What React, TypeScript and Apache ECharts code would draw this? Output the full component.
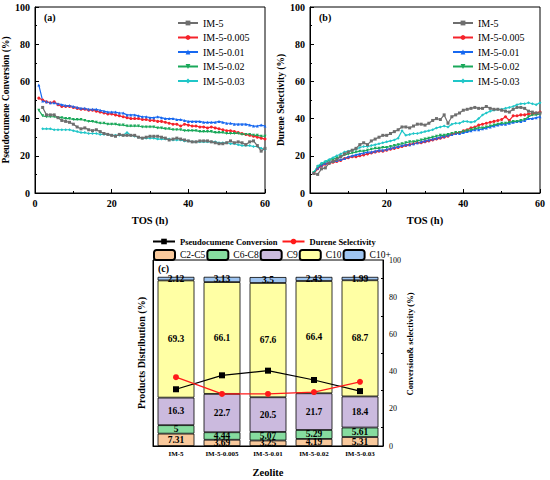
import React, { useEffect, useRef } from 'react';
import * as echarts from 'echarts';

const serif = '"Liberation Serif", "DejaVu Serif", serif';

// time on stream (h)
const tos = [
  1, 2, 3, 4, 5, 6, 7, 8, 9, 10, 11, 12, 13, 14, 15, 16, 17, 18, 19, 20,
  21, 22, 23, 24, 25, 26, 27, 28, 29, 30, 31, 32, 33, 34, 35, 36, 37, 38, 39, 40,
  41, 42, 43, 44, 45, 46, 47, 48, 49, 50, 51, 52, 53, 54, 55, 56, 57, 58, 59, 60,
];

const sampleNames = ['IM-5', 'IM-5-0.005', 'IM-5-0.01', 'IM-5-0.02', 'IM-5-0.03'];
const sampleColors = ['#6e6e6e', '#f5232b', '#1768f0', '#1aa85a', '#20c6c8'];
const sampleSymbols = ['rect', 'circle', 'triangle', 'triangle', 'diamond'];

// (a) pseudocumene conversion (%)
const convIM5 = [
  null, 46, 42, 42, 42, 40.5, 39, 38.5, 38, 37, 35.5, 34.5, 35, 34, 33.5, 34, 33, 32, 31.5, 31,
  30.5, 31.5, 31, 31, 31, 31, 30, 29.5, 30, 30.5, 30.5, 30.5, 30, 29.5, 28.5, 29, 29.5, 29, 28.5, 28,
  27.5, 27.5, 28, 28, 28, 27.5, 27, 26.5, 26.5, 27, 28, 27, 27.5, 27, 26, 27.5, 28, 25.5, 22.5, 24,
];
const conv0005 = [
  51, 50, 49, 48.5, 49, 47.5, 46.5, 46.5, 46.5, 46, 45.5, 45, 45, 44.5, 44.5, 44, 43.5, 43, 42.5, 42.5,
  42, 41.5, 41, 40.5, 40, 40, 40, 39.5, 39.5, 39, 39, 38.5, 38.5, 38, 37.5, 37, 37, 36, 37, 36.5,
  36, 36, 35.5, 35.5, 35, 35.5, 35, 34.5, 34, 33.5, 33.5, 33, 32.5, 32, 31.5, 31, 30.5, 30, 29.5, 29,
];
const conv001 = [
  58, 49.5, 49, 48.5, 48.5, 48, 47.5, 47, 47, 46.5, 46, 45.5, 45.5, 45, 45, 45, 44.5, 44, 43.5, 43.5,
  43.5, 43, 43, 42, 42, 42, 41.5, 41, 41, 40.5, 40.5, 41, 40.5, 40, 40, 40, 39.5, 39.5, 39, 38.5,
  38.5, 38.5, 38.5, 38, 38, 38, 38, 38.5, 38, 37.5, 37.5, 37, 37, 37, 37, 36.5, 36, 36, 36.5, 36,
];
const conv002 = [
  44.5, 41.5, 41, 41, 41, 40.5, 40.5, 40, 40, 39.5, 39.5, 39.5, 39, 38.5, 38.5, 38, 37.5, 37.5, 37, 37,
  37, 36.5, 36.5, 36, 36, 36, 36, 35.5, 35.5, 35.5, 35.5, 35, 35, 34.5, 34.5, 34, 34, 34, 33.5, 33.5,
  33.5, 33.5, 33, 33, 33, 33, 32.5, 32.5, 32.5, 32, 32, 32, 32, 31.5, 31.5, 31.5, 31, 31, 30.5, 30.5,
];
const conv003 = [
  null, 34.5, 34.5, 34.5, 34, 34, 34, 34, 34, 33.5, 33, 32.5, 32.5, 32, 32, 32, 31.5, 31.5, 31.5, 31,
  31, 31, 31, 32.5, 31, 30.5, 30, 29.5, 29.5, 29.5, 29.5, 29, 29, 29, 29, 28.5, 28.5, 28.5, 28, 28,
  27.5, 27.5, 27.5, 27.5, 27.5, 27.5, 27.5, 27, 27, 27, 26.5, 26.5, 26, 25.5, 25.5, 25.5, 25, 25, 24, 23.5,
];

// (b) durene selectivity (%)
const selIM5 = [
  10.5, 10, 13, 13.5, 16, 17, 18, 19.5, 21, 22, 23, 24, 26, 27, 26, 28, 29, 30, 31, 31,
  32, 33, 34, 35.5, 35.5, 35, 36, 37, 37, 36.5, 37.5, 39, 40, 39.5, 42, 37.5, 41, 42, 43, 44.5,
  45, 45.5, 46, 45.5, 45.5, 46.5, 45.5, 45, 45, 44.5, 44, 43.5, 45, 46, 46, 45.5, 44, 43.5, 43, 43,
];
const sel0005 = [
  10.5, 13, 14.5, 15.5, 16, 16.5, 17, 17.5, 18.5, 19, 19.5, 19.5, 20, 20.5, 21, 21.5, 22, 22.5, 22.5, 23,
  23.5, 24, 24.5, 25, 25.5, 26, 26.5, 27, 27, 27.5, 28, 28.5, 29, 29.5, 30, 30.5, 31.5, 32, 32.5, 33.5,
  34, 35, 35.5, 36.5, 37, 37.5, 38, 38.5, 39, 39.5, 41, 39, 41.5, 41.5, 42, 42, 42.5, 42.5, 43, 43.5,
];
const sel001 = [
  11, 13.5, 15, 16, 16.5, 17, 17.5, 18, 18.5, 19.5, 20, 20.5, 21, 21.5, 22, 22, 22.5, 23, 23, 23.5,
  24, 24.5, 25, 25.5, 26, 26, 26.5, 27, 27.5, 28, 28.5, 29, 29.5, 30, 30.5, 31, 31.5, 32, 32, 32.5,
  33, 33.5, 34, 34, 34.5, 35, 35.5, 36, 36.5, 37, 37, 37.5, 38, 38.5, 38.5, 39, 40, 40, 40.5, 41,
];
const sel002 = [
  11, 14, 15.5, 16.5, 17.5, 18, 19, 19.5, 20.5, 21, 21.5, 22, 22.5, 22.5, 23, 23.5, 24, 24, 24.5, 24.5,
  25, 25.5, 26, 26.5, 27, 27.5, 27.5, 28, 28.5, 29, 29.5, 30, 30.5, 31, 31, 31.5, 32, 32.5, 32.5, 33,
  33.5, 34, 34.5, 35, 35, 35.5, 36, 36.5, 37, 37.5, 37.5, 38, 38.5, 38.5, 39, 39.5, 41, 42, 42, 42.5,
];
const sel003 = [
  11, 14.5, 16, 17, 18, 19, 20, 21, 22, 22.5, 23, 23.5, 24.5, 25, 25, 25.5, 26, 26.5, 27, 27.5,
  28, 28.5, 29.5, 33.5, 31, 31.5, 32, 32, 32.5, 33, 33.5, 34, 35, 35.5, 36, 35.5, 37, 37.5, 37.5, 38.5,
  38.5, 38, 38.5, 40, 42, 43, 44, 44.5, 45, 45, 45.5, 46, 46.5, 47.5, 48, 48, 48.5, 48, 47.5, 48.5,
];

const convSets = [convIM5, conv0005, conv001, conv002, conv003];
const selSets = [selIM5, sel0005, sel001, sel002, sel003];

// (c) product distribution (%)
const zeolites = ['IM-5', 'IM-5-0.005', 'IM-5-0.01', 'IM-5-0.02', 'IM-5-0.03'];
const productNames = ['C2-C5', 'C6-C8', 'C9', 'C10', 'C10+'];
const productColors = ['#f9c99c', '#86dc9f', '#cbbade', '#ffffa4', '#9ec4f0'];
const c2c5 = [7.31, 3.69, 3.25, 4.19, 5.31];
const c6c8 = [5, 4.44, 5.07, 5.29, 5.61];
const c9 = [16.3, 22.7, 20.5, 21.7, 18.4];
const c10 = [69.3, 66.1, 67.6, 66.4, 68.7];
const c10plus = [2.12, 3.13, 3.5, 2.43, 1.99];
const productSets = [c2c5, c6c8, c9, c10, c10plus];
const conversion = [30.5, 38, 40.5, 35.5, 29.5];
const selectivity = [37, 28, 28, 29, 34.5];

const tickLabel = { fontFamily: serif, fontSize: 10, fontWeight: 'bold' as const, color: '#000' };
const nameStyle = { fontFamily: serif, fontSize: 10.5, fontWeight: 'bold' as const, color: '#000' };
const axisLine = { show: true, lineStyle: { color: '#000', width: 1 } };

const valueXAxis = (gridIndex: number) => ({
  type: 'value' as const,
  gridIndex,
  min: 0,
  max: 60,
  interval: 20,
  name: 'TOS (h)',
  nameLocation: 'middle' as const,
  nameGap: 22,
  nameTextStyle: nameStyle,
  axisLine,
  axisTick: { inside: true, length: 4, lineStyle: { color: '#000' } },
  minorTick: { show: true, splitNumber: 2, length: 2, lineStyle: { color: '#000' } },
  splitLine: { show: false },
  axisLabel: { ...tickLabel, margin: 5 },
});

const valueYAxis = (gridIndex: number, name: string) => ({
  type: 'value' as const,
  gridIndex,
  min: 0,
  max: 100,
  interval: 20,
  name,
  nameLocation: 'middle' as const,
  nameGap: 22,
  nameTextStyle: { ...nameStyle, fontSize: 9.5 },
  axisLine,
  axisTick: { inside: true, length: 4, lineStyle: { color: '#000' } },
  minorTick: { show: true, splitNumber: 2, length: 2, lineStyle: { color: '#000' } },
  splitLine: { show: false },
  axisLabel: { ...tickLabel, margin: 5 },
});

const lineSeries = (sets: (number | null)[][], axisIndex: number) =>
  sets.map((vals, k) => ({
    name: sampleNames[k],
    type: 'line' as const,
    xAxisIndex: axisIndex,
    yAxisIndex: axisIndex,
    data: tos.map((t, i) => [t, vals[i]]),
    symbol: sampleSymbols[k],
    symbolRotate: k === 3 ? 180 : 0,
    symbolSize: 3,
    color: sampleColors[k],
    lineStyle: { width: 1.2 },
    z: k === 0 ? 3 : 2,
  }));

const App: React.FC = () => {
  const chartRef = useRef<HTMLDivElement>(null);

  useEffect(() => {
    document.body.style.margin = '0';
    if (!chartRef.current) return;
    const chart = echarts.init(chartRef.current, undefined, { renderer: 'svg' });

    const sampleLegend = (left: number) => ({
      orient: 'vertical' as const,
      left,
      top: 18,
      padding: 0,
      itemWidth: 20,
      itemHeight: 6,
      itemGap: 4.5,
      data: sampleNames,
      textStyle: { fontFamily: serif, fontSize: 10, color: '#000' },
    });

    const panelTitle = (text: string, left: number, top: number) => ({
      text,
      left,
      top,
      padding: 0,
      textStyle: { fontFamily: serif, fontSize: 10, fontWeight: 'bold' as const, color: '#000' },
    });

    const option: any = {
      animation: false,
      backgroundColor: '#fff',
      title: [panelTitle('(a)', 44, 12), panelTitle('(b)', 319, 12), panelTitle('(c)', 158, 263)],
      legend: [
        sampleLegend(177),
        sampleLegend(452),
        {
          left: 152,
          top: 237,
          padding: 0,
          itemWidth: 22,
          itemHeight: 7,
          itemGap: 4,
          data: ['Pseudocumene Conversion', 'Durene Selectivity'],
          textStyle: { fontFamily: serif, fontSize: 8.5, fontWeight: 'bold', color: '#000' },
        },
        {
          left: 153,
          top: 249,
          padding: 0,
          itemWidth: 21,
          itemHeight: 10,
          itemGap: 1,
          data: productNames,
          textStyle: { fontFamily: serif, fontSize: 9.5, color: '#000' },
        },
      ],
      grid: [
        { left: 35, top: 7, width: 230, height: 186, show: true, borderColor: '#000', borderWidth: 1 },
        { left: 310, top: 7, width: 230, height: 186, show: true, borderColor: '#000', borderWidth: 1 },
        { left: 153, top: 260, width: 230, height: 186, show: true, borderColor: '#000', borderWidth: 1 },
      ],
      xAxis: [
        valueXAxis(0),
        valueXAxis(1),
        {
          type: 'category',
          gridIndex: 2,
          data: zeolites,
          name: 'Zeolite',
          nameLocation: 'middle',
          nameGap: 21,
          nameTextStyle: nameStyle,
          axisLine,
          axisTick: { show: false },
          axisLabel: { interval: 0, fontFamily: serif, fontSize: 7, fontWeight: 'bold', color: '#000', margin: 4 },
        },
      ],
      yAxis: [
        valueYAxis(0, 'Pseudocumene Conversion (%)'),
        valueYAxis(1, 'Durene Selectivity (%)'),
        {
          type: 'value',
          gridIndex: 2,
          min: 0,
          max: 110,
          name: 'Products Distribution (%)',
          nameLocation: 'middle',
          nameGap: 7,
          nameTextStyle: { ...nameStyle, fontSize: 10 },
          axisLine,
          axisTick: { show: false },
          axisLabel: { show: false },
          splitLine: { show: false },
        },
        {
          type: 'value',
          gridIndex: 2,
          position: 'right',
          min: 0,
          max: 100,
          interval: 20,
          name: 'Conversion& selectivity (%)',
          nameLocation: 'middle',
          nameRotate: 90,
          nameGap: 22,
          nameTextStyle: { ...nameStyle, fontSize: 8.5, padding: [0, 0, 0, 18] },
          axisLine,
          axisTick: { inside: true, length: 4, lineStyle: { color: '#000' } },
          minorTick: { show: true, splitNumber: 2, length: 2, lineStyle: { color: '#000' } },
          splitLine: { show: false },
          axisLabel: { fontFamily: serif, fontSize: 8, color: '#000', margin: 6 },
        },
      ],
      series: [
        ...lineSeries(convSets, 0),
        ...lineSeries(selSets, 1),
        ...productSets.map((vals, k) => ({
          name: productNames[k],
          type: 'bar',
          xAxisIndex: 2,
          yAxisIndex: 2,
          stack: 'products',
          data: vals,
          barWidth: '80%',
          itemStyle: { color: productColors[k], borderColor: '#000', borderWidth: 0.8 },
          label: {
            show: true,
            position: 'inside',
            formatter: '{c}',
            fontFamily: serif,
            fontSize: 9.5,
            fontWeight: 'bold',
            color: '#000',
          },
        })),
        {
          name: 'Pseudocumene Conversion',
          type: 'line',
          xAxisIndex: 2,
          yAxisIndex: 3,
          data: conversion,
          symbol: 'rect',
          symbolSize: 6,
          color: '#000',
          lineStyle: { width: 1.2 },
          z: 5,
        },
        {
          name: 'Durene Selectivity',
          type: 'line',
          xAxisIndex: 2,
          yAxisIndex: 3,
          data: selectivity,
          symbol: 'circle',
          symbolSize: 6,
          color: '#ff1a1a',
          lineStyle: { width: 1.2 },
          z: 5,
        },
      ],
    };

    chart.setOption(option);
    return () => chart.dispose();
  }, []);

  return <div ref={chartRef} style={{ width: 550, height: 480 }} />;
};

export default App;
